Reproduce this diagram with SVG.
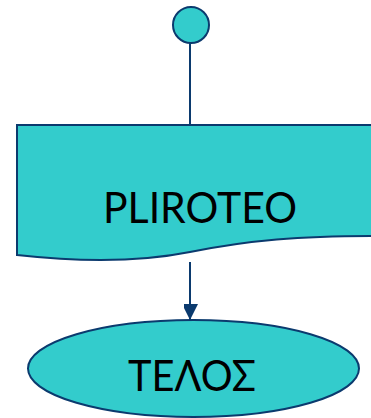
<svg xmlns="http://www.w3.org/2000/svg" width="371" height="418" viewBox="0 0 371 418">
  <style>
    .shape { fill: #33CCCC; stroke: #0B3A6E; stroke-width: 2; }
    .edge { fill: none; stroke: #0B3A6E; stroke-width: 2; }
    .label { font-family: Lato, "Liberation Sans", Arial, sans-serif; fill: #000; text-anchor: middle; }
  </style>
  <defs>
    <marker id="arrow" markerUnits="userSpaceOnUse" markerWidth="16" markerHeight="14" refX="16" refY="8" orient="auto">
      <path d="M0,0 L16,8 L0,16 Z" fill="#0B3A6E"/>
    </marker>
  </defs>

  <g id="connectors">
    <line class="edge" x1="190" y1="43" x2="190" y2="125"/>
    <line class="edge" x1="190" y1="262" x2="190" y2="320" marker-end="url(#arrow)"/>
  </g>

  <g id="start">
    <circle class="shape" cx="191" cy="25" r="18"/>
  </g>

  <g id="output">
    <path class="shape" d="M17,125 L373,125 L373,236 C300,236 250,240 190,252 C140,262 80,262 17,255 Z"/>
    <text class="label" x="200" y="223" font-size="42" textLength="194" lengthAdjust="spacingAndGlyphs">PLIROTEO</text>
  </g>

  <g id="end">
    <ellipse class="shape" cx="193.5" cy="368.5" rx="165.5" ry="48.5"/>
    <text class="label" x="192" y="391" font-size="43" textLength="128" lengthAdjust="spacingAndGlyphs">ΤΕΛΟΣ</text>
  </g>
</svg>
